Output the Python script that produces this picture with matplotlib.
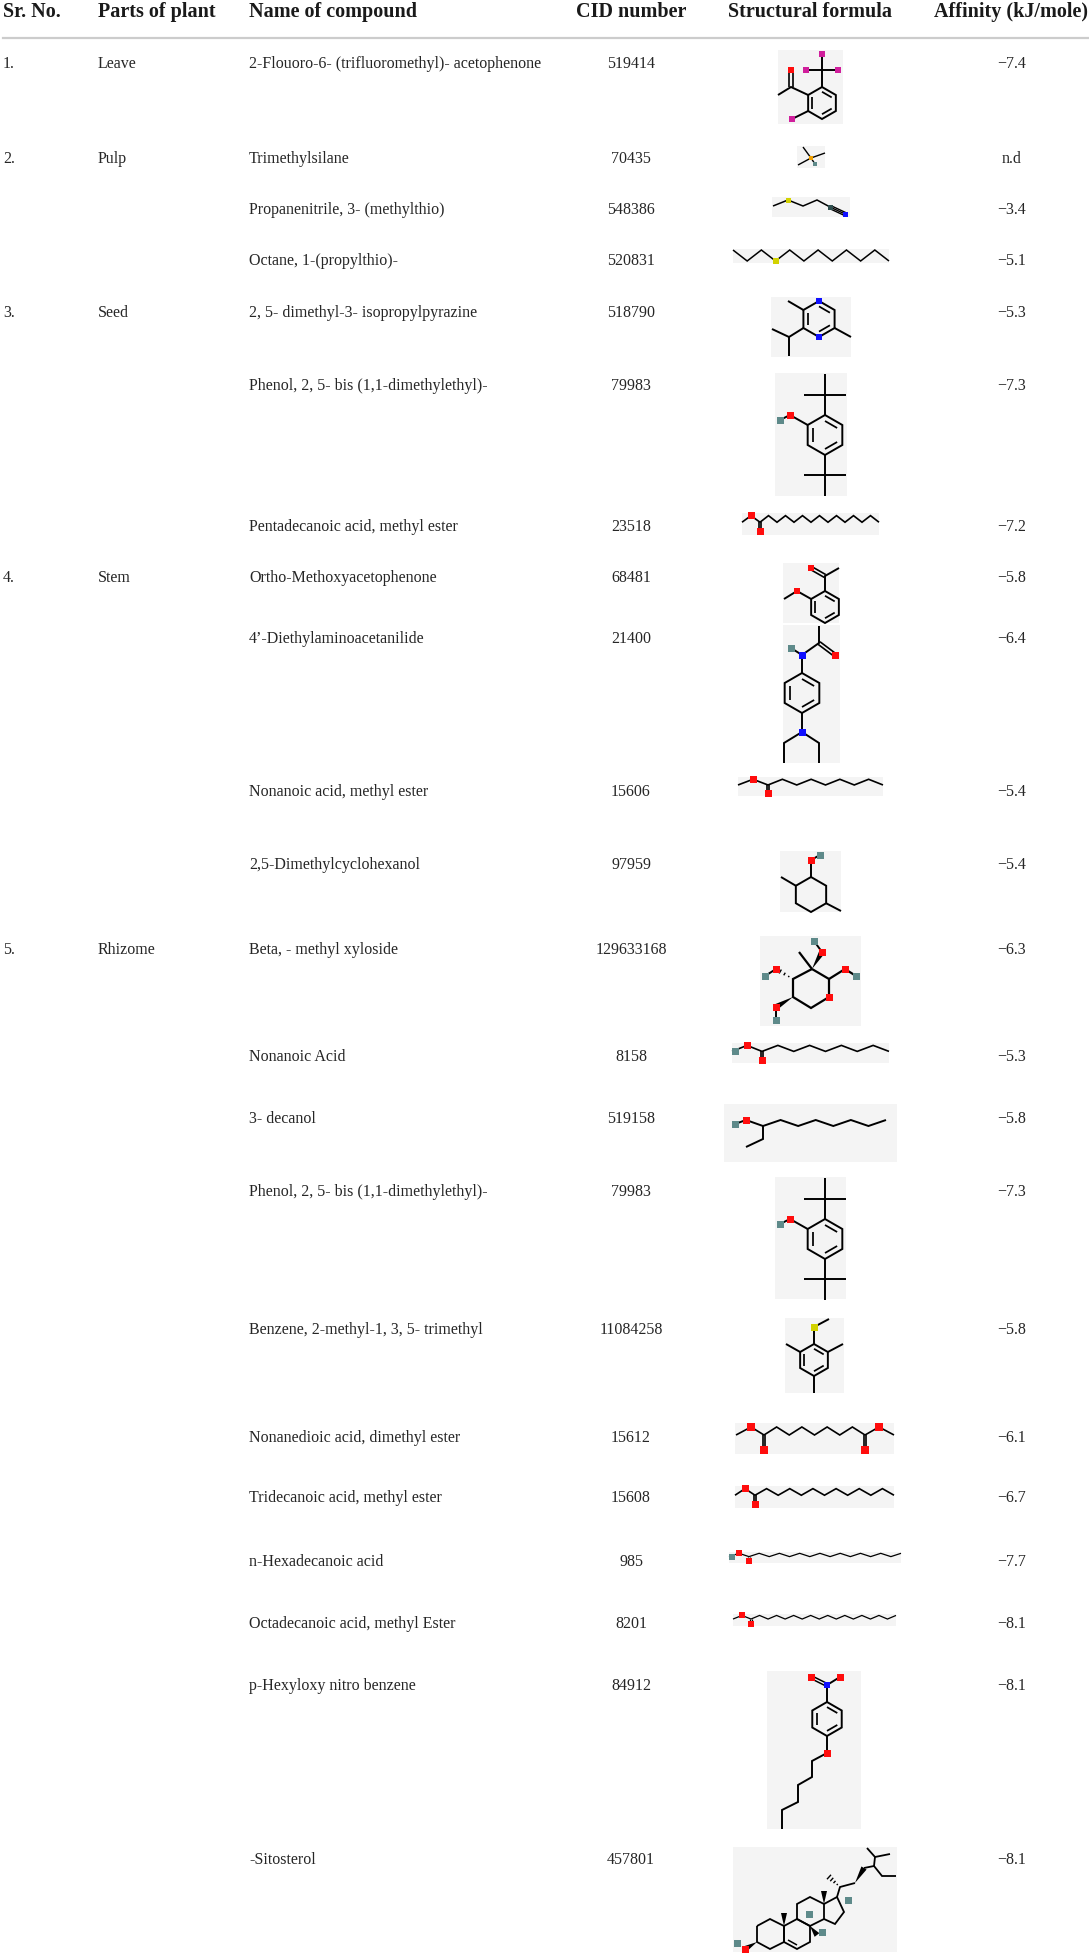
"""Table of phytocompounds with CID, structure sketch and docking affinity."""
import numpy as np
import matplotlib
matplotlib.use("Agg")
import matplotlib.pyplot as plt
from matplotlib.patches import Rectangle, Polygon

# --- table data ---
sr_no = ["1.", "2.", "3.", "4.", "5."]
plant_parts = ["Leave", "Pulp", "Seed", "Stem", "Rhizome"]
group_sizes = [1, 3, 3, 4, 11]
compounds = [
    "2-Flouoro-6- (trifluoromethyl)- acetophenone",
    "Trimethylsilane",
    "Propanenitrile, 3- (methylthio)",
    "Octane, 1-(propylthio)-",
    "2, 5- dimethyl-3- isopropylpyrazine",
    "Phenol, 2, 5- bis (1,1-dimethylethyl)-",
    "Pentadecanoic acid, methyl ester",
    "Ortho-Methoxyacetophenone",
    "4\u2019-Diethylaminoacetanilide",
    "Nonanoic acid, methyl ester",
    "2,5-Dimethylcyclohexanol",
    "Beta, - methyl xyloside",
    "Nonanoic Acid",
    "3- decanol",
    "Phenol, 2, 5- bis (1,1-dimethylethyl)-",
    "Benzene, 2-methyl-1, 3, 5- trimethyl",
    "Nonanedioic acid, dimethyl ester",
    "Tridecanoic acid, methyl ester",
    "n-Hexadecanoic acid",
    "Octadecanoic acid, methyl Ester",
    "p-Hexyloxy nitro benzene",
    "-Sitosterol",
]
cid_numbers = [519414, 70435, 548386, 520831, 518790, 79983, 23518, 68481, 21400,
               15606, 97959, 129633168, 8158, 519158, 79983, 11084258, 15612,
               15608, 985, 8201, 84912, 457801]
affinity = [-7.4, None, -3.4, -5.1, -5.3, -7.3, -7.2, -5.8, -6.4, -5.4, -5.4,
            -6.3, -5.3, -5.8, -7.3, -5.8, -6.1, -6.7, -7.7, -8.1, -8.1, -8.1]
headers = ["Sr. No.", "Parts of plant", "Name of compound", "CID number",
           "Structural formula", "Affinity (kJ/mole)"]

# --- layout (pixels) ---
W, H = 1089, 1957
row_y = [63, 158, 209, 260, 312, 385, 526, 577, 638, 791, 864, 949, 1056, 1118,
         1191, 1329, 1437, 1497, 1561, 1623, 1685, 1859]
# structure image boxes: x0, x1, y0, y1
boxes = [(778, 843, 50, 124), (797, 825, 146, 168), (772, 850, 197, 217),
         (733, 889, 249, 263), (771, 851, 297, 357), (775, 847, 373, 496),
         (742, 879, 513, 535), (783, 839, 563, 623), (783, 840, 625, 763),
         (738, 883, 777, 796), (780, 841, 851, 912), (760, 861, 936, 1026),
         (732, 889, 1043, 1063), (724, 897, 1104, 1162), (775, 846, 1177, 1299),
         (785, 844, 1318, 1393), (735, 894, 1423, 1454), (735, 894, 1486, 1508),
         (729, 901, 1552, 1563), (733, 896, 1614, 1626), (767, 861, 1671, 1829),
         (733, 897, 1847, 1952)]

C_O, C_H, C_N, C_F = "#ff0d0d", "#5e8a8a", "#1010ff", "#d01f9c"
C_S, C_SI, BG = "#d2d200", "#f0a000", "#f4f4f4"

fig = plt.figure(figsize=(W / 100, H / 100), dpi=100)
ax = fig.add_axes([0, 0, 1, 1])
ax.set_xlim(0, W)
ax.set_ylim(H, 0)
ax.axis("off")


# --- small sketch helpers (local coords inside a box) ---
def bg(b):
    ax.add_patch(Rectangle((b[0], b[2]), b[1] - b[0], b[3] - b[2], fc=BG, ec="none", zorder=1))


def line(b, pts, lw=1.4):
    ax.plot([b[0] + p[0] for p in pts], [b[2] + p[1] for p in pts], color="black",
            lw=lw, solid_capstyle="butt", solid_joinstyle="miter", zorder=3)


def dbl(b, p, q, gap=1.6, lw=1.2, offs=(-1, 1)):
    d = np.subtract(q, p)
    n = np.array([-d[1], d[0]]) / np.hypot(*d) * gap
    for s in offs:
        line(b, [np.add(p, s * n), np.add(q, s * n)], lw)


def atom(b, p, c, s=7):
    ax.add_patch(Rectangle((b[0] + p[0] - s / 2, b[2] + p[1] - s / 2), s, s, fc=c, ec="none", zorder=4))


def ring(b, cx, cy, r, arom=True, lw=1.4):
    ang = np.radians(90 - 60 * np.arange(6))
    v = [(cx + r * np.cos(a), cy - r * np.sin(a)) for a in ang]
    line(b, v + [v[0]], lw)
    if arom:
        for i in (0, 2, 4):
            p, q = v[i], v[(i + 1) % 6]
            line(b, [(cx + (p[0] - cx) * 0.7, cy + (p[1] - cy) * 0.7),
                     (cx + (q[0] - cx) * 0.7, cy + (q[1] - cy) * 0.7)], lw * 0.9)
    return v


def chain(u0, step, n, va, vb):
    return [(u0 + i * step, va if i % 2 == 0 else vb) for i in range(n + 1)]


def wedge(b, p, q, w=5):
    d = np.subtract(q, p)
    n = np.array([-d[1], d[0]]) / np.hypot(*d) * w / 2
    pts = [p, np.add(q, n), np.add(q, -n)]
    ax.add_patch(Polygon([(b[0] + x, b[2] + y) for x, y in pts], fc="black", ec="none", zorder=3))


def hashed(b, p, q, w=5, k=4):
    p, q = np.array(p, float), np.array(q, float)
    d = q - p
    n = np.array([-d[1], d[0]]) / np.hypot(*d) * w / 2
    for t in np.linspace(0.25, 1, k):
        c = p + t * d
        line(b, [c - n * t, c + n * t], 1.0)


def ester(b, n, hx, acid=False, lw=1.2, s=7):
    w, h = b[1] - b[0], b[3] - b[2]
    hi, lo, vo = 0.12 * h, 0.42 * h, 0.85 * h
    c = 2 * hx
    line(b, [(0, lo), (hx, hi), (c, lo)], lw)
    dbl(b, (c, lo), (c, vo), 1.3, lw)
    line(b, chain(c, (w - c) / n, n, lo, hi), lw)
    atom(b, (hx, hi), C_O, s)
    atom(b, (c, vo), C_O, s)
    if acid:
        atom(b, (s / 2, lo), C_H, s)


# --- the structures ---
def acetophenone_cf3(b):
    v = ring(b, 44, 53, 16)
    line(b, [v[0], (44, 20)])
    for f in [(44, 4), (28, 20), (60, 20)]:
        line(b, [(44, 20), f])
        atom(b, f, C_F, 6)
    line(b, [v[5], (13, 37), (0, 45)])
    dbl(b, (13, 37), (13, 20))
    line(b, [v[4], (14, 69)])
    atom(b, (13, 20), C_O, 6)
    atom(b, (14, 69), C_F, 6)


def trimethylsilane(b):
    for p in [(6, 1), (28, 7), (1, 19), (18, 18)]:
        line(b, [(14, 12), p], 1.0)
    atom(b, (14, 12), C_SI, 4)
    atom(b, (18, 18), C_H, 4)


def methylthio_propanenitrile(b):
    line(b, [(1, 9), (16, 3), (31, 9), (45, 3), (58, 10)], 1.1)
    dbl(b, (58, 10), (73, 17), 1.6, 1.0, (-1, 0, 1))
    atom(b, (16, 3), C_S, 5)
    atom(b, (58, 10), "#2f4f4f", 5)
    atom(b, (73, 17), C_N, 5)


def propylthio_octane(b):
    pts = chain(0, 156 / 11, 11, 1, 12)
    line(b, pts, 1.1)
    atom(b, pts[3], C_S, 6)


def pyrazine(b):
    v = ring(b, 48, 22, 18)
    line(b, [v[5], (17, 4)])
    line(b, [v[2], (80, 40)])
    line(b, [v[4], (18, 40), (1, 32)])
    line(b, [(18, 40), (18, 59)])
    atom(b, v[0], C_N, 6)
    atom(b, v[3], C_N, 6)


def di_tbu_phenol(b):
    v = ring(b, 50, 62, 20)
    line(b, [(50, 1), v[0]])
    line(b, [(29, 22), (71, 22)])
    line(b, [v[3], (50, 123)])
    line(b, [(29, 102), (71, 102)])
    line(b, [v[5], (15, 42), (5, 47)])
    atom(b, (15, 42), C_O, 7)
    atom(b, (5, 47), C_H, 7)


def methoxyacetophenone(b):
    v = ring(b, 42, 44, 16)
    line(b, [v[0], (42, 13), (56, 5)])
    dbl(b, (42, 13), (28, 5))
    line(b, [v[5], (14, 28), (1, 36)])
    atom(b, (28, 5), C_O, 6)
    atom(b, (14, 28), C_O, 6)


def diethylaminoacetanilide(b):
    line(b, [(36, 1), (36, 18), (19, 30), (8, 23)])
    dbl(b, (36, 18), (52, 30))
    v = ring(b, 19, 68, 20)
    line(b, [(19, 30), v[0]])
    line(b, [v[3], (19, 107)])
    line(b, [(1, 138), (1, 118), (19, 107), (36, 118), (36, 138)])
    atom(b, (19, 30), C_N, 7)
    atom(b, (19, 107), C_N, 7)
    atom(b, (52, 30), C_O, 7)
    atom(b, (8, 23), C_H, 7)


def dimethylcyclohexanol(b):
    v = ring(b, 31, 43.5, 17.5, arom=False)
    line(b, [v[0], (31, 9), (40, 4)])
    line(b, [v[5], (1, 26)])
    line(b, [v[2], (61, 60)])
    atom(b, (31, 9), C_O, 7)
    atom(b, (40, 4), C_H, 7)


def methyl_xyloside(b):
    rg = [(52, 33), (69, 43), (69, 61), (51, 72), (33, 61), (33, 43)]
    line(b, rg + [rg[0]], 1.6)
    line(b, [(52, 33), (39, 16)], 1.6)
    wedge(b, (52, 33), (62, 16), 6)
    line(b, [(62, 16), (54, 5)])
    hashed(b, (33, 43), (16, 33), 6)
    line(b, [(16, 33), (5, 40)])
    line(b, [(69, 43), (85, 33), (96, 40)], 1.6)
    wedge(b, (33, 61), (16, 71), 6)
    line(b, [(16, 71), (16, 84)])
    for p in [(62, 16), (16, 33), (85, 33), (69, 61), (16, 71)]:
        atom(b, p, C_O, 7)
    for p in [(54, 5), (5, 40), (96, 40), (16, 84)]:
        atom(b, p, C_H, 7)


def decanol(b):
    line(b, [(11, 20), (22, 16), (39, 22), (39, 35), (22, 43)])
    line(b, chain(39, 123 / 7, 7, 22, 16))
    atom(b, (22, 16), C_O, 7)
    atom(b, (11, 20), C_H, 7)


def thioanisole(b):
    v = ring(b, 29, 42, 16)
    line(b, [v[0], (29, 9), (44, 1)])
    line(b, [v[5], (1, 26)])
    line(b, [v[1], (58, 26)])
    line(b, [v[3], (29, 75)])
    atom(b, (29, 9), C_S, 7)


def azelate(b):
    line(b, [(1, 12), (16, 4), (29, 12)], 1.2)
    line(b, chain(29, 101 / 8, 8, 12, 4), 1.2)
    line(b, [(130, 12), (144, 4), (159, 12)], 1.2)
    dbl(b, (29, 12), (29, 27), 1.3, 1.2)
    dbl(b, (130, 12), (130, 27), 1.3, 1.2)
    for p in [(16, 4), (29, 27), (130, 27), (144, 4)]:
        atom(b, p, C_O, 8)


def hexyloxy_nitrobenzene(b):
    v = ring(b, 60, 48, 17)
    line(b, [v[0], (60, 14), (73, 6)])
    dbl(b, (60, 14), (44, 6), 1.4, 1.1)
    line(b, [v[3], (60, 82), (45, 90), (45, 106), (31, 114), (31, 131), (15, 139), (15, 158)])
    atom(b, (60, 14), C_N, 6)
    atom(b, (44, 6), C_O, 7)
    atom(b, (73, 6), C_O, 7)
    atom(b, (60, 82), C_O, 7)


def sitosterol(b):
    A = [(24, 79), (37, 72), (51, 79), (51, 95), (37, 102), (24, 95)]
    B = [(51, 79), (64, 72), (77, 79), (77, 95), (64, 102), (51, 95)]
    C = [(64, 72), (64, 57), (77, 50), (91, 57), (91, 72), (77, 79)]
    for r in (A, B, C):
        line(b, r + [r[0]], 1.3)
    line(b, [(91, 57), (104, 50), (111, 65), (102, 77), (91, 72)], 1.3)
    line(b, [(55, 93), (64, 98)], 1.1)
    line(b, [(104, 50), (107, 40), (122, 36)], 1.3)
    wedge(b, (122, 36), (131, 21), 6)
    line(b, [(131, 21), (141, 19), (149, 29), (163, 29)], 1.3)
    line(b, [(141, 19), (142, 10), (134, 1)], 1.3)
    line(b, [(142, 10), (157, 7)], 1.3)
    hashed(b, (107, 40), (96, 30), 6)
    wedge(b, (24, 95), (12, 102), 6)
    wedge(b, (51, 79), (51, 66), 6)
    wedge(b, (91, 57), (91, 44), 6)
    wedge(b, (77, 79), (84, 88), 6)
    atom(b, (12, 102), C_O, 7)
    for p in [(4, 96), (76, 67), (89, 85), (115, 53)]:
        atom(b, p, C_H, 7)


structures = [
    acetophenone_cf3, trimethylsilane, methylthio_propanenitrile, propylthio_octane,
    pyrazine, di_tbu_phenol,
    lambda b: ester(b, 14, 9),
    methoxyacetophenone, diethylaminoacetanilide,
    lambda b: ester(b, 8, 15),
    dimethylcyclohexanol, methyl_xyloside,
    lambda b: ester(b, 8, 15, acid=True),
    decanol, di_tbu_phenol, thioanisole, azelate,
    lambda b: ester(b, 12, 10),
    lambda b: ester(b, 15, 10, acid=True, lw=0.9, s=6),
    lambda b: ester(b, 17, 9, lw=0.9, s=6),
    hexyloxy_nitrobenzene, sitosterol,
]

# --- text ---
FONT = ["Liberation Serif", "DejaVu Serif"]
HEAD_KW = dict(family=FONT, fontsize=14.5, fontweight="bold", color="#1a1a1a", va="baseline")
BODY_KW = dict(family=FONT, fontsize=11.5, color="#262626", va="baseline")

head_x = [(3, "left"), (98, "left"), (249, "left"), (631, "center"), (810, "center"), (1011, "center")]
for (x, ha), label in zip(head_x, headers):
    ax.text(x, 17, label, ha=ha, **HEAD_KW)
ax.plot([3, W], [38, 38], color="#cccccc", lw=1.6, zorder=2)

starts = np.cumsum([0] + group_sizes[:-1])
for s, no, part in zip(starts, sr_no, plant_parts):
    ax.text(3, row_y[s] + 5, no, ha="left", **BODY_KW)
    ax.text(98, row_y[s] + 5, part, ha="left", **BODY_KW)

for i, (name, cid, aff) in enumerate(zip(compounds, cid_numbers, affinity)):
    y = row_y[i] + 5
    ax.text(249, y, name, ha="left", **BODY_KW)
    ax.text(631, y, str(cid), ha="center", **BODY_KW)
    txt = "n.d" if aff is None else f"{aff:.1f}".replace("-", "\u2212")
    ax.text(1012, y, txt, ha="center", **BODY_KW)
    bg(boxes[i])
    structures[i](boxes[i])

fig.savefig("out.png", dpi=100)
